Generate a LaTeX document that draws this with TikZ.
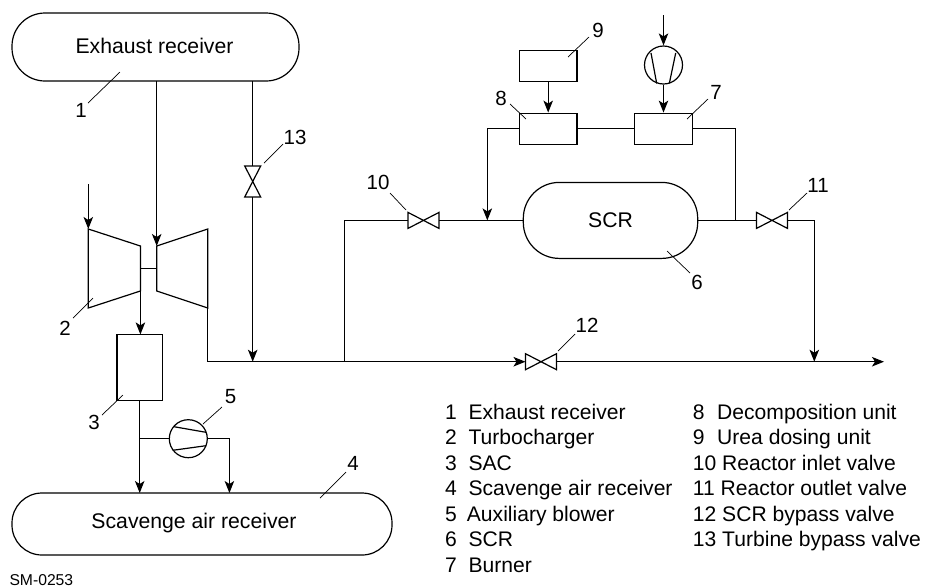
\documentclass[tikz,border=0pt]{standalone}
\usepackage{fontspec}
\setmainfont{Liberation Sans}
\usetikzlibrary{arrows.meta}
\tikzset{
    line/.style={line width=1.2pt},
    flow/.style={line, -{Stealth[length=12pt,width=9.5pt,inset=3pt]}},
    leader/.style={line width=0.7pt},
    unit/.style={draw, line width=1.2pt, rectangle, inner sep=0pt, minimum width=57.5pt, minimum height=31pt},
    tank/.style={draw, line width=1.2pt, rectangle, inner sep=0pt},
    blower/.style={draw, line width=1.2pt, circle, inner sep=0pt, minimum size=38pt},
    num/.style={font=\fontsize{20.5}{24}\selectfont, inner sep=0pt},
    legend/.style={font=\fontsize{21.1}{25}\selectfont, anchor=base west, inner sep=0pt}
}
\begin{document}
\begin{tikzpicture}[x=1pt,y=-1pt,font=\fontsize{21.2}{25}\selectfont]
    \useasboundingbox (0,0) rectangle (925,587);

    % receivers and units
    \node[tank, rounded corners=33pt, minimum width=287pt, minimum height=68pt] (exhaust) at (155.5,47) {};
    \node (exhausttext) at (154.5,46) {Exhaust receiver};
    \node[tank, rounded corners=30pt, minimum width=380pt, minimum height=62pt] (scavenge) at (202,524) {};
    \node (scavengetext) at (194,523) {Scavenge air receiver};
    \node[tank, rounded corners=36pt, minimum width=174.4pt, minimum height=76pt] (scr) at (610.5,220.4) {SCR};
    \node[unit, minimum width=45.3pt, minimum height=66pt] (sac) at (139.7,367.4) {};
    \node[unit] (decomp) at (548.2,128.7) {};
    \node[unit] (burner) at (663.5,128.7) {};
    \node[unit] (dosing) at (548.2,65.7) {};
    \node[blower] (fan) at (663.5,65) {};
    \node[blower] (aux) at (188.3,438.7) {};

    % turbocharger
    \draw[line] (88.3,229) -- (140.4,246) -- (140.4,291) -- (88.3,308) -- cycle;
    \draw[line] (207.7,229) -- (156.7,246) -- (156.7,291) -- (207.7,308) -- cycle;
    \draw[line] (140.4,268.3) -- (156.7,268.3);

    % blades
    \draw[line] (651,53) -- (656.7,83.5);
    \draw[line] (675.7,53) -- (669.3,83.5);
    \draw[line] (174,426.7) -- (206,432.3);
    \draw[line] (172.7,450.3) -- (206,445.7);

    % valves
    \coordinate (v10) at (423.5,220.4);
    \coordinate (v11) at (772,220.4);
    \coordinate (v12) at (541,361.7);
    \coordinate (v13) at (252.7,181.5);
    \foreach \v in {v10,v11,v12} {
        \draw[line] (\v) ++(-15.5,-8) -- ++(31,16) -- ++(0,-16) -- ++(-31,16) -- cycle;
    }
    \draw[line] (v13) ++(-8,-15.5) -- ++(16,31) -- ++(-16,0) -- ++(16,-31) -- cycle;

    % free ends
    \coordinate (tcin) at (88.3,184);
    \coordinate (fanin) at (663.5,15);
    \coordinate (outlet) at (884,361.7);

    % pipes
    \draw[flow] (tcin) -- (88.3,229);
    \draw[flow] (156.7,81) -- (156.7,246);
    \draw[flow] (140.4,291) -- (140.4,334.4);
    \draw[line] (252.7,81) -- (252.7,166);
    \draw[flow] (252.7,197) -- (252.7,361.7);
    \draw[flow] (207.7,308) -- (207.7,361.7) -- (525.5,361.7);
    \draw[flow] (556.5,361.7) -- (outlet);
    \draw[line] (344.4,361.7) -- (344.4,220.4) -- (408,220.4);
    \draw[line] (439,220.4) -- (scr.west);
    \draw[line] (scr.east) -- (756.5,220.4);
    \draw[flow] (787.5,220.4) -- (814.3,220.4) -- (814.3,361.7);
    \draw[flow] (decomp.west) -- (487.3,128.7) -- (487.3,220.4);
    \draw[line] (decomp.east) -- (burner.west);
    \draw[line] (burner.east) -- (735.7,128.7) -- (735.7,220.4);
    \draw[flow] (dosing.south) -- (decomp.north);
    \draw[flow] (fanin) -- (fan.north);
    \draw[flow] (fan.south) -- (burner.north);
    \draw[flow] (sac.south) -- (139.7,493);
    \draw[line] (139.7,438.7) -- (aux.west);
    \draw[flow] (aux.east) -- (229.4,438.7) -- (229.4,493);

    % numbers
    \node[num] (n1) at (81,110.5) {1};
    \node[num] (n2) at (65,328) {2};
    \node[num] (n3) at (94,422) {3};
    \node[num] (n4) at (353,463) {4};
    \node[num] (n5) at (230.5,397) {5};
    \node[num] (n6) at (697,282) {6};
    \node[num] (n7) at (716,92) {7};
    \node[num] (n8) at (501,98) {8};
    \node[num] (n9) at (598,30) {9};
    \node[num] (n10) at (378,182) {10};
    \node[num] (n11) at (818,185) {11};
    \node[num] (n12) at (587,325) {12};
    \node[num] (n13) at (295,137) {13};

    % leaders
    \draw[leader] (88,103) -- (120,72);
    \draw[leader] (73,318) -- (93,298);
    \draw[leader] (102,415) -- (123,395);
    \draw[leader] (346,472) -- (320,498);
    \draw[leader] (222,407) -- (203,424);
    \draw[leader] (690,273) -- (667,251);
    \draw[leader] (708,99) -- (687,119);
    \draw[leader] (510,104) -- (526,119);
    \draw[leader] (589,37) -- (568,57);
    \draw[leader] (390,193) -- (406,210);
    \draw[leader] (807,193) -- (789,210);
    \draw[leader] (575,334) -- (558,351);
    \draw[leader] (283,144) -- (264,163);

    % legend
    \foreach \y/\a/\x/\b in {419/1/468.3/Exhaust receiver, 444.5/2/468.3/Turbocharger, 470/3/468.3/SAC, 495.5/4/468.3/Scavenge air receiver, 521/5/466.7/Auxiliary blower, 546.5/6/468.3/SCR, 572/7/468.3/Burner} {
        \node[legend] (a\a) at (445,\y) {\a};
        \node[legend] (b\a) at (\x,\y) {\b};
    }
    \foreach \y/\a/\b in {419/8/Decomposition unit, 444.5/9/Urea dosing unit} {
        \node[legend] (a\a) at (692.7,\y) {\a};
        \node[legend] (b\a) at (717,\y) {\b};
    }
    \foreach \y/\a/\b in {470/10/Reactor inlet valve, 495.5/11/Reactor outlet valve, 521/12/SCR bypass valve, 546.5/13/Turbine bypass valve} {
        \node[legend] (c\a) at (692.7,\y) {\a\ \b};
    }
    \node[legend, font=\fontsize{15.7}{18}\selectfont] (code) at (9.3,585) {SM-0253};
\end{tikzpicture}
\end{document}
